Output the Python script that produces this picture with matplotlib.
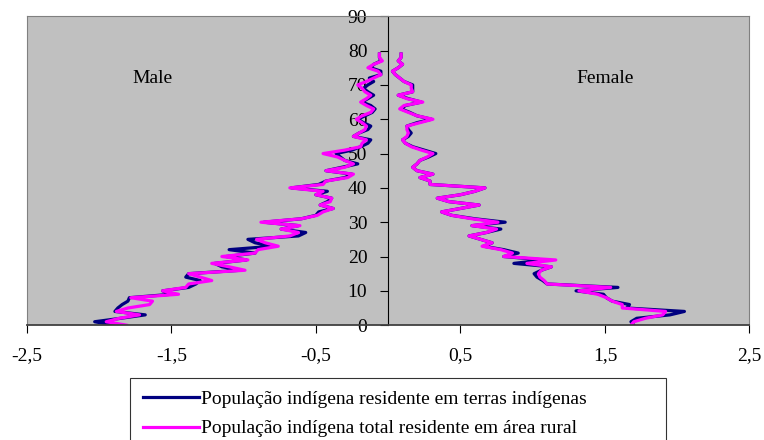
import matplotlib
matplotlib.use('Agg')
from matplotlib import pyplot as plt

# idades simples 0..79
ages = list(range(80))

male_ti = [-1.90, -2.03, -1.85, -1.68, -1.89, -1.87, -1.84, -1.80, -1.79, -1.50,
           -1.56, -1.38, -1.33, -1.30, -1.40, -1.38, -1.02, -1.15, -1.20, -0.98,
           -1.12, -0.92, -1.10, -0.80, -0.92, -0.97, -0.62, -0.57, -0.74, -0.62,
           -0.86, -0.60, -0.50, -0.48, -0.38, -0.47, -0.42, -0.39, -0.50, -0.42,
           -0.67, -0.48, -0.43, -0.30, -0.25, -0.43, -0.32, -0.21, -0.30, -0.33,
           -0.36, -0.25, -0.19, -0.14, -0.12, -0.24, -0.20, -0.14, -0.12, -0.17,
           -0.21, -0.16, -0.11, -0.09, -0.12, -0.18, -0.14, -0.10, -0.14, -0.17,
           -0.14, -0.10, -0.13, -0.05, -0.05, -0.12, -0.10, -0.05, -0.06, -0.06]

male_rural = [-1.81, -1.95, -1.86, -1.72, -1.88, -1.80, -1.65, -1.63, -1.78, -1.45,
              -1.56, -1.40, -1.38, -1.22, -1.30, -1.38, -0.99, -1.10, -1.22, -0.97,
              -1.15, -0.92, -0.90, -0.76, -0.85, -0.91, -0.68, -0.62, -0.74, -0.61,
              -0.88, -0.60, -0.49, -0.45, -0.38, -0.47, -0.40, -0.39, -0.50, -0.45,
              -0.68, -0.45, -0.43, -0.28, -0.24, -0.43, -0.30, -0.24, -0.30, -0.35,
              -0.45, -0.30, -0.19, -0.18, -0.15, -0.24, -0.20, -0.16, -0.15, -0.18,
              -0.22, -0.18, -0.12, -0.10, -0.15, -0.19, -0.15, -0.12, -0.16, -0.18,
              -0.21, -0.15, -0.10, -0.05, -0.07, -0.14, -0.10, -0.04, -0.06, -0.06]

female_ti = [1.70, 1.68, 1.72, 1.95, 2.05, 1.65, 1.67, 1.55, 1.51, 1.49,
             1.30, 1.59, 1.10, 1.07, 1.03, 1.01, 1.06, 1.13, 0.87, 1.08,
             0.80, 0.90, 0.80, 0.66, 0.72, 0.64, 0.56, 0.68, 0.78, 0.58,
             0.81, 0.60, 0.44, 0.37, 0.50, 0.63, 0.42, 0.34, 0.50, 0.60,
             0.67, 0.29, 0.29, 0.22, 0.31, 0.20, 0.17, 0.20, 0.22, 0.28,
             0.33, 0.25, 0.17, 0.12, 0.10, 0.14, 0.16, 0.14, 0.13, 0.20,
             0.30, 0.20, 0.15, 0.09, 0.12, 0.23, 0.14, 0.07, 0.17, 0.17,
             0.17, 0.11, 0.08, 0.05, 0.03, 0.07, 0.10, 0.07, 0.09, 0.09]

female_rural = [1.68, 1.70, 1.78, 1.90, 1.92, 1.62, 1.62, 1.55, 1.51, 1.45,
                1.32, 1.54, 1.10, 1.08, 1.05, 1.04, 1.06, 1.13, 0.96, 1.16,
                0.80, 0.86, 0.78, 0.65, 0.72, 0.64, 0.56, 0.68, 0.75, 0.58,
                0.76, 0.58, 0.44, 0.37, 0.50, 0.63, 0.42, 0.34, 0.50, 0.60,
                0.67, 0.29, 0.29, 0.22, 0.31, 0.20, 0.17, 0.20, 0.22, 0.27,
                0.31, 0.23, 0.16, 0.12, 0.10, 0.13, 0.14, 0.13, 0.13, 0.22,
                0.31, 0.20, 0.14, 0.08, 0.11, 0.24, 0.13, 0.07, 0.17, 0.16,
                0.16, 0.11, 0.08, 0.05, 0.03, 0.07, 0.10, 0.07, 0.09, 0.09]

x_ticks = [-2.5, -1.5, -0.5, 0.5, 1.5, 2.5]
x_labels = ['-2,5', '-1,5', '-0,5', '0,5', '1,5', '2,5']
y_ticks = list(range(0, 100, 10))

label_ti = 'População indígena residente em terras indígenas'
label_rural = 'População indígena total residente em área rural'

plt.rcParams['font.family'] = ['Liberation Serif', 'DejaVu Serif']
fs = 14

fig = plt.figure(figsize=(7.64, 4.40), dpi=100)
ax = fig.add_axes([0.035, 0.261, 0.946, 0.702])
ax.set_facecolor('#c0c0c0')

navy = '#000080'
pink = '#ff00ff'
ax.plot(male_ti, ages, c=navy, linewidth=2.3, label=label_ti)
ax.plot(female_ti, ages, c=navy, linewidth=2.3)
ax.plot(male_rural, ages, c=pink, linewidth=2.3, label=label_rural)
ax.plot(female_rural, ages, c=pink, linewidth=2.3)

ax.set_xlim(-2.5, 2.5)
ax.set_ylim(0, 90)
ax.set_xticks(x_ticks)
ax.set_xticklabels(x_labels)
ax.tick_params(axis='x', direction='out', length=6, pad=10, labelsize=fs)
ax.set_yticks([])

for side in ['left', 'right', 'top']:
	ax.spines[side].set_color('#808080')
ax.spines['bottom'].set_color('#404040')
ax.spines['bottom'].set_linewidth(1.3)

# eixo vertical no centro (x = 0)
sec = ax.secondary_yaxis(0.5)
sec.set_alignment('left')
sec.set_yticks(y_ticks)
sec.spines['left'].set_color('black')
sec.tick_params(axis='y', direction='out', length=6, pad=9, labelsize=fs)

ax.text(-1.63, 72, 'Male', fontsize=fs, ha='center', va='center')
ax.text(1.50, 72, 'Female', fontsize=fs, ha='center', va='center')

leg = fig.legend(loc='upper left', bbox_to_anchor=(130 / 764, 0.141, 536 / 764, 0.0),
                 mode='expand', ncol=1, fontsize=fs, frameon=True, fancybox=False,
                 handlelength=2.9, handletextpad=0.1, borderpad=0.65,
                 labelspacing=0.6, borderaxespad=0)
leg.get_frame().set_edgecolor('black')
leg.get_frame().set_linewidth(0.8)
for line in leg.get_lines():
	line.set_linewidth(2.3)

plt.savefig('out.png', dpi=100)
